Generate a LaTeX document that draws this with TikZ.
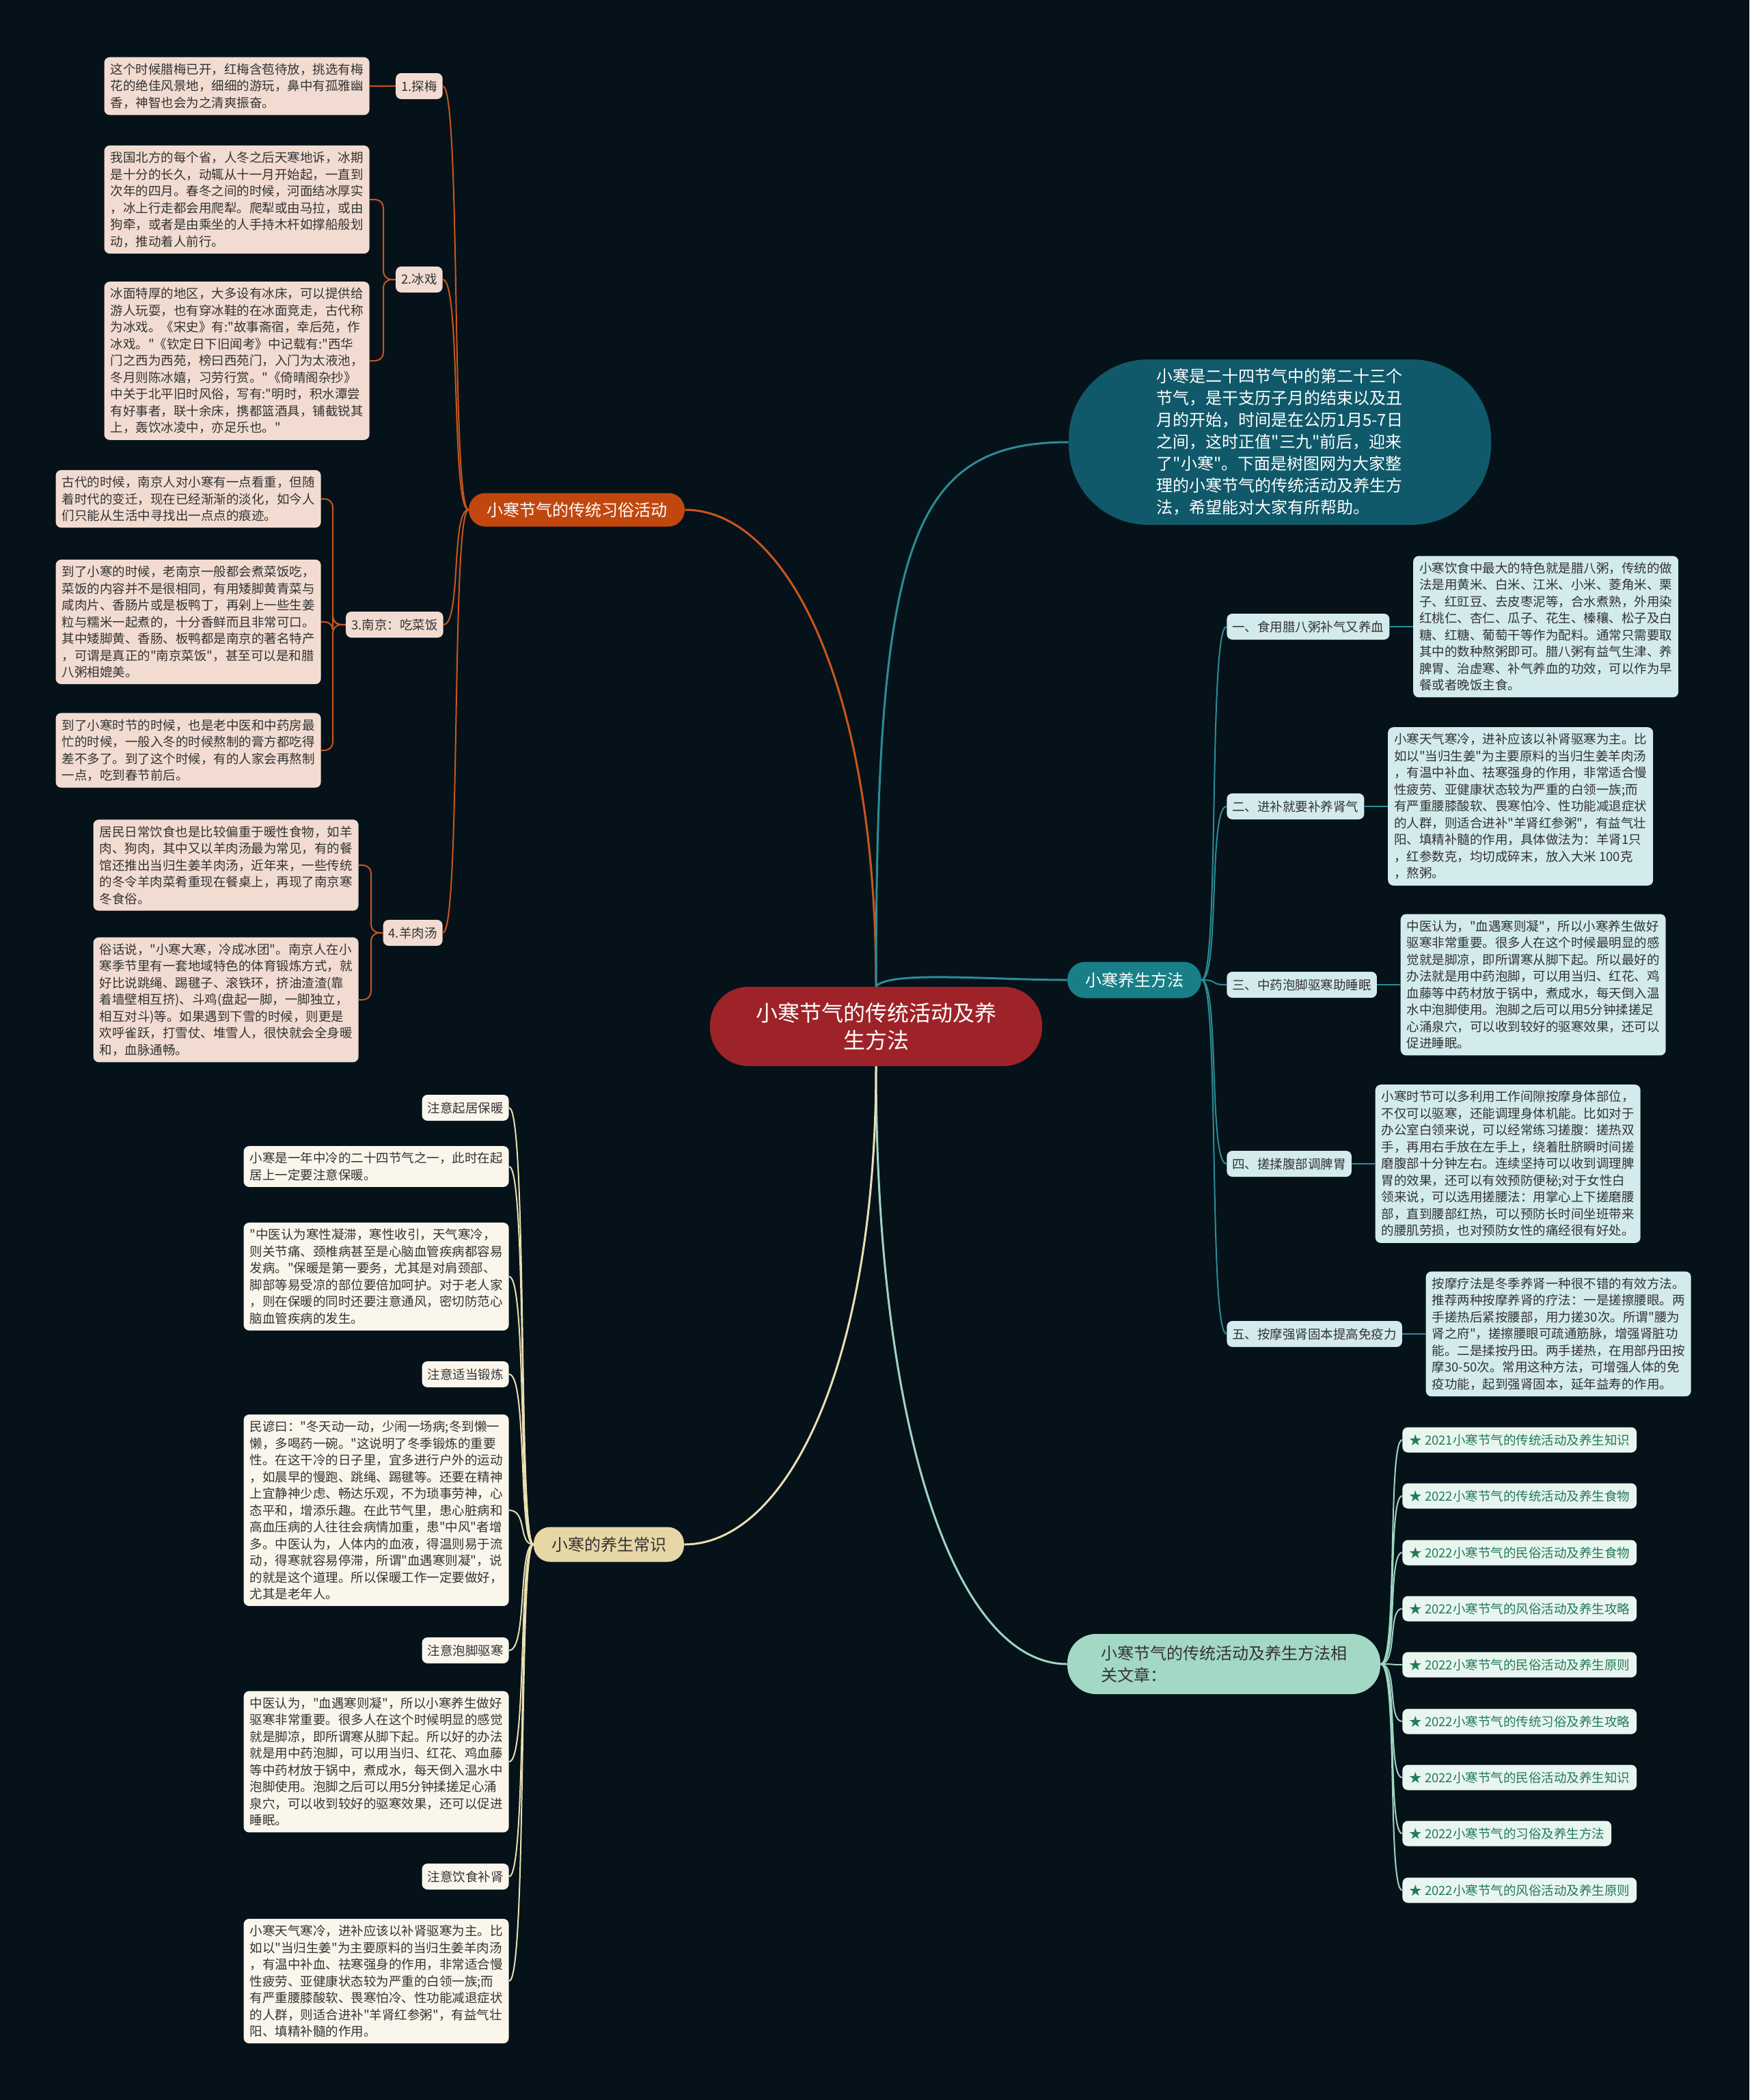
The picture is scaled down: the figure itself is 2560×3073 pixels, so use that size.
\documentclass[tikz,border=0pt]{standalone}
\usepackage{fontspec}
\setmainfont{Noto Sans CJK SC}
\newfontfamily\zhf{Noto Sans CJK SC}
\usetikzlibrary{positioning}
\definecolor{bg}{HTML}{06121A}
\definecolor{rootc}{HTML}{9E2328}
\definecolor{orgc}{HTML}{C2470F}
\definecolor{orgline}{HTML}{C9561C}
\definecolor{pinkc}{HTML}{F2DCD1}
\definecolor{introc}{HTML}{10596A}
\definecolor{tealc}{HTML}{187F88}
\definecolor{tealline}{HTML}{2A8D96}
\definecolor{cyanc}{HTML}{D3EBEC}
\definecolor{mintc}{HTML}{A3D7C6}
\definecolor{mintline}{HTML}{9FD5C2}
\definecolor{linkc}{HTML}{E9F5EF}
\definecolor{linktext}{HTML}{217A5B}
\definecolor{tanc}{HTML}{E8D7A6}
\definecolor{creamline}{HTML}{E9DFB0}
\definecolor{creamc}{HTML}{FAF6EC}
\definecolor{txt}{HTML}{333333}
\newcommand\myleaf{\zhf\fontsize{9.25pt}{12.25pt}\selectfont}
\newcommand\mybranch{\zhf\fontsize{12pt}{16pt}\selectfont}
\newcommand\myroot{\zhf\fontsize{16pt}{20pt}\selectfont}
\tikzset{
  leafbase/.style={text=txt, rounded corners=4pt, align=left, font=\myleaf, inner xsep=4.5pt, inner ysep=4.5pt},
  pleaf/.style={leafbase, fill=pinkc},
  cleaf/.style={leafbase, fill=cyanc},
  yleaf/.style={leafbase, fill=creamc},
  subbase/.style={text=txt, rounded corners=4pt, font=\myleaf, inner xsep=4pt, inner ysep=2pt, minimum height=19pt},
  psub/.style={subbase, fill=pinkc},
  csub/.style={subbase, fill=cyanc},
  ysub/.style={subbase, fill=creamc},
  linkbox/.style={fill=linkc, text=linktext, rounded corners=4pt, font=\myleaf, inner xsep=5pt, inner ysep=2pt, minimum height=18.5pt, anchor=west},
  branchbox/.style={font=\mybranch, inner xsep=13pt, inner ysep=2pt},
  mainline/.style={line width=1.5pt},
  subline/.style={line width=1pt},
}
\begin{document}
\begin{tikzpicture}[x=0.5pt,y=-0.5pt]
\useasboundingbox (0,0) rectangle (2560,3073);
\fill[bg] (0,0) rectangle (2560,3073);

% ---------- nodes ----------
\node[fill=rootc, text=white, rounded corners=28pt, minimum width=243pt, minimum height=58pt, align=center, font=\myroot, inner xsep=10pt] (root) at (1282,1502) {小寒节气的传统活动及养\\生方法};

\node[fill=introc, text=white, rounded corners=58pt, minimum width=309pt, minimum height=121pt, align=left, font=\zhf\fontsize{12pt}{16pt}\selectfont] (intro) at (1873,647) {小寒是二十四节气中的第二十三个\\节气，是干支历子月的结束以及丑\\月的开始，时间是在公历1月5-7日\\之间，这时正值"三九"前后，迎来\\了"小寒"。下面是树图网为大家整\\理的小寒节气的传统活动及养生方\\法，希望能对大家有所帮助。};

% branch 1
\node[branchbox, fill=orgc, text=white, rounded corners=12pt, minimum height=24.5pt] (b1) at (844,746) {小寒节气的传统习俗活动};
\node[psub, anchor=east] (s1) at (648,126) {1.探梅};
\node[psub, anchor=east] (s2) at (648,409) {2.冰戏};
\node[psub, anchor=east] (s3) at (649,914) {3.南京：吃菜饭};
\node[psub, anchor=east] (s4) at (648,1365) {4.羊肉汤};

\node[pleaf, anchor=east] (tm1) at (541,126) {这个时候腊梅已开，红梅含苞待放，挑选有梅\\花的绝佳风景地，细细的游玩，鼻中有孤雅幽\\香，神智也会为之清爽振奋。};
\node[pleaf, anchor=east] (bx1) at (541,292) {我国北方的每个省，人冬之后天寒地诉，冰期\\是十分的长久，动辄从十一月开始起，一直到\\次年的四月。春冬之间的时候，河面结冰厚实\\，冰上行走都会用爬犁。爬犁或由马拉，或由\\狗牵，或者是由乘坐的人手持木杆如撑船般划\\动，推动着人前行。};
\node[pleaf, anchor=east] (bx2) at (541,528) {冰面特厚的地区，大多设有冰床，可以提供给\\游人玩耍，也有穿冰鞋的在冰面竞走，古代称\\为冰戏。《宋史》有:"故事斋宿，幸后苑，作\\冰戏。"《钦定日下旧闻考》中记载有:"西华\\门之西为西苑，榜曰西苑门，入门为太液池，\\冬月则陈冰嬉，习劳行赏。"《倚晴阁杂抄》\\中关于北平旧时风俗，写有:"明时，积水潭尝\\有好事者，联十余床，携都篮酒具，铺截锐其\\上，轰饮冰凌中，亦足乐也。"};
\node[pleaf, anchor=east] (nj1) at (470,730) {古代的时候，南京人对小寒有一点看重，但随\\着时代的变迁，现在已经渐渐的淡化，如今人\\们只能从生活中寻找出一点点的痕迹。};
\node[pleaf, anchor=east] (nj2) at (470,910) {到了小寒的时候，老南京一般都会煮菜饭吃，\\菜饭的内容并不是很相同，有用矮脚黄青菜与\\咸肉片、香肠片或是板鸭丁，再剁上一些生姜\\粒与糯米一起煮的，十分香鲜而且非常可口。\\其中矮脚黄、香肠、板鸭都是南京的著名特产\\，可谓是真正的"南京菜饭"，甚至可以是和腊\\八粥相媲美。};
\node[pleaf, anchor=east] (nj3) at (470,1098) {到了小寒时节的时候，也是老中医和中药房最\\忙的时候，一般入冬的时候熬制的膏方都吃得\\差不多了。到了这个时候，有的人家会再熬制\\一点，吃到春节前后。};
\node[pleaf, anchor=east] (ym1) at (525,1266) {居民日常饮食也是比较偏重于暖性食物，如羊\\肉、狗肉，其中又以羊肉汤最为常见，有的餐\\馆还推出当归生姜羊肉汤，近年来，一些传统\\的冬令羊肉菜肴重现在餐桌上，再现了南京寒\\冬食俗。};
\node[pleaf, anchor=east] (ym2) at (525,1463) {俗话说，"小寒大寒，冷成冰团"。南京人在小\\寒季节里有一套地域特色的体育锻炼方式，就\\好比说跳绳、踢毽子、滚铁环，挤油渣渣(靠\\着墙壁相互挤)、斗鸡(盘起一脚，一脚独立，\\相互对斗)等。如果遇到下雪的时候，则更是\\欢呼雀跃，打雪仗、堆雪人，很快就会全身暖\\和，血脉通畅。};

% branch 2
\node[branchbox, fill=tealc, text=white, rounded corners=13pt, minimum height=26.5pt] (b2) at (1660,1434) {小寒养生方法};
\node[csub, anchor=west] (r1) at (1795,917) {一、食用腊八粥补气又养血};
\node[csub, anchor=west] (r2) at (1795,1180) {二、进补就要补养肾气};
\node[csub, anchor=west] (r3) at (1795,1441) {三、中药泡脚驱寒助睡眠};
\node[csub, anchor=west] (r4) at (1795,1703) {四、搓揉腹部调脾胃};
\node[csub, anchor=west] (r5) at (1795,1952) {五、按摩强肾固本提高免疫力};

\node[cleaf, right=17pt of r1] (rl1) {小寒饮食中最大的特色就是腊八粥，传统的做\\法是用黄米、白米、江米、小米、菱角米、栗\\子、红豇豆、去皮枣泥等，合水煮熟，外用染\\红桃仁、杏仁、瓜子、花生、榛穰、松子及白\\糖、红糖、葡萄干等作为配料。通常只需要取\\其中的数种熬粥即可。腊八粥有益气生津、养\\脾胃、治虚寒、补气养血的功效，可以作为早\\餐或者晚饭主食。};
\node[cleaf, right=17pt of r2] (rl2) {小寒天气寒冷，进补应该以补肾驱寒为主。比\\如以"当归生姜"为主要原料的当归生姜羊肉汤\\，有温中补血、祛寒强身的作用，非常适合慢\\性疲劳、亚健康状态较为严重的白领一族;而\\有严重腰膝酸软、畏寒怕冷、性功能减退症状\\的人群，则适合进补"羊肾红参粥"，有益气壮\\阳、填精补髓的作用，具体做法为：羊肾1只\\，红参数克，均切成碎末，放入大米 100克\\，熬粥。};
\node[cleaf, right=17pt of r3] (rl3) {中医认为，"血遇寒则凝"，所以小寒养生做好\\驱寒非常重要。很多人在这个时候最明显的感\\觉就是脚凉，即所谓寒从脚下起。所以最好的\\办法就是用中药泡脚，可以用当归、红花、鸡\\血藤等中药材放于锅中，煮成水，每天倒入温\\水中泡脚使用。泡脚之后可以用5分钟揉搓足\\心涌泉穴，可以收到较好的驱寒效果，还可以\\促进睡眠。};
\node[cleaf, right=17pt of r4] (rl4) {小寒时节可以多利用工作间隙按摩身体部位，\\不仅可以驱寒，还能调理身体机能。比如对于\\办公室白领来说，可以经常练习搓腹：搓热双\\手，再用右手放在左手上，绕着肚脐瞬时间搓\\磨腹部十分钟左右。连续坚持可以收到调理脾\\胃的效果，还可以有效预防便秘;对于女性白\\领来说，可以选用搓腰法：用掌心上下搓磨腰\\部，直到腰部红热，可以预防长时间坐班带来\\的腰肌劳损，也对预防女性的痛经很有好处。};
\node[cleaf, right=17pt of r5] (rl5) {按摩疗法是冬季养肾一种很不错的有效方法。\\推荐两种按摩养肾的疗法：一是搓擦腰眼。两\\手搓热后紧按腰部，用力搓30次。所谓"腰为\\肾之府"，搓擦腰眼可疏通筋脉，增强肾脏功\\能。二是揉按丹田。两手搓热，在用部丹田按\\摩30-50次。常用这种方法，可增强人体的免\\疫功能，起到强肾固本，延年益寿的作用。};

% branch 3
\node[branchbox, fill=mintc, text=txt, rounded corners=21pt, minimum height=44pt, minimum width=229pt, align=left] (b3) at (1791,2435) {小寒节气的传统活动及养生方法相\\关文章：};
\node[linkbox] (k1) at (2052,2107) {★ 2021小寒节气的传统活动及养生知识};
\node[linkbox] (k2) at (2052,2189) {★ 2022小寒节气的传统活动及养生食物};
\node[linkbox] (k3) at (2052,2272) {★ 2022小寒节气的民俗活动及养生食物};
\node[linkbox] (k4) at (2052,2354) {★ 2022小寒节气的风俗活动及养生攻略};
\node[linkbox] (k5) at (2052,2436) {★ 2022小寒节气的民俗活动及养生原则};
\node[linkbox] (k6) at (2052,2519) {★ 2022小寒节气的传统习俗及养生攻略};
\node[linkbox] (k7) at (2052,2601) {★ 2022小寒节气的民俗活动及养生知识};
\node[linkbox] (k8) at (2052,2683) {★ 2022小寒节气的习俗及养生方法};
\node[linkbox] (k9) at (2052,2766) {★ 2022小寒节气的风俗活动及养生原则};

% branch 4
\node[branchbox, fill=tanc, text=txt, rounded corners=12pt, minimum height=25.5pt] (b4) at (891,2260) {小寒的养生常识};
\node[ysub, anchor=east] (c1) at (745,1621) {注意起居保暖};
\node[yleaf, anchor=east] (c2) at (745,1707) {小寒是一年中冷的二十四节气之一，此时在起\\居上一定要注意保暖。};
\node[yleaf, anchor=east] (c3) at (745,1868) {"中医认为寒性凝滞，寒性收引，天气寒冷，\\则关节痛、颈椎病甚至是心脑血管疾病都容易\\发病。"保暖是第一要务，尤其是对肩颈部、\\脚部等易受凉的部位要倍加呵护。对于老人家\\，则在保暖的同时还要注意通风，密切防范心\\脑血管疾病的发生。};
\node[ysub, anchor=east] (c4) at (745,2011) {注意适当锻炼};
\node[yleaf, anchor=east] (c5) at (745,2210) {民谚曰："冬天动一动，少闹一场病;冬到懒一\\懒，多喝药一碗。"这说明了冬季锻炼的重要\\性。在这干冷的日子里，宜多进行户外的运动\\，如晨早的慢跑、跳绳、踢毽等。还要在精神\\上宜静神少虑、畅达乐观，不为琐事劳神，心\\态平和，增添乐趣。在此节气里，患心脏病和\\高血压病的人往往会病情加重，患"中风"者增\\多。中医认为，人体内的血液，得温则易于流\\动，得寒就容易停滞，所谓"血遇寒则凝"，说\\的就是这个道理。所以保暖工作一定要做好，\\尤其是老年人。};
\node[ysub, anchor=east] (c6) at (745,2415) {注意泡脚驱寒};
\node[yleaf, anchor=east] (c7) at (745,2578) {中医认为，"血遇寒则凝"，所以小寒养生做好\\驱寒非常重要。很多人在这个时候明显的感觉\\就是脚凉，即所谓寒从脚下起。所以好的办法\\就是用中药泡脚，可以用当归、红花、鸡血藤\\等中药材放于锅中，煮成水，每天倒入温水中\\泡脚使用。泡脚之后可以用5分钟揉搓足心涌\\泉穴，可以收到较好的驱寒效果，还可以促进\\睡眠。};
\node[ysub, anchor=east] (c8) at (745,2746) {注意饮食补肾};
\node[yleaf, anchor=east] (c9) at (745,2899) {小寒天气寒冷，进补应该以补肾驱寒为主。比\\如以"当归生姜"为主要原料的当归生姜羊肉汤\\，有温中补血、祛寒强身的作用，非常适合慢\\性疲劳、亚健康状态较为严重的白领一族;而\\有严重腰膝酸软、畏寒怕冷、性功能减退症状\\的人群，则适合进补"羊肾红参粥"，有益气壮\\阳、填精补髓的作用。};

% ---------- connectors ----------
\draw[orgline, mainline] (root.north) .. controls (1282,1000) and (1150,746) .. (b1.east);
\draw[tealline, mainline] (root.north) .. controls (1282,800) and (1330,647) .. (intro.west);
\draw[tealline, mainline] (root.north) .. controls (1300,1420) and (1450,1434) .. (b2.west);
\draw[mintline, mainline] (root.south) .. controls (1282,2100) and (1400,2435) .. (b3.west);
\draw[creamline, mainline] (root.south) .. controls (1282,2000) and (1150,2260) .. (b4.east);

% branch 1 spine
\draw[orgline, subline] (b1.west) .. controls (660,746) and (675,126) .. (s1.east);
\draw[orgline, subline] (b1.west) .. controls (660,746) and (675,409) .. (s2.east);
\draw[orgline, subline] (b1.west) .. controls (660,746) and (675,914) .. (s3.east);
\draw[orgline, subline] (b1.west) .. controls (660,746) and (675,1365) .. (s4.east);
% branch 1 leaves
\draw[orgline, subline] (s1.west) -- (tm1.east);
\draw[orgline, subline, rounded corners=6pt] (s2.west) -- (561,409) -- (561,292) -- (bx1.east);
\draw[orgline, subline, rounded corners=6pt] (s2.west) -- (561,409) -- (561,528) -- (bx2.east);
\draw[orgline, subline, rounded corners=6pt] (s3.west) -- (487,914) -- (487,730) -- (nj1.east);
\draw[orgline, subline, rounded corners=6pt] (s3.west) -- (487,914) -- (487,910) -- (nj2.east);
\draw[orgline, subline, rounded corners=6pt] (s3.west) -- (487,914) -- (487,1098) -- (nj3.east);
\draw[orgline, subline, rounded corners=6pt] (s4.west) -- (543,1365) -- (543,1266) -- (ym1.east);
\draw[orgline, subline, rounded corners=6pt] (s4.west) -- (543,1365) -- (543,1463) -- (ym2.east);

% branch 2
\draw[tealline, subline] (b2.east) .. controls (1785,1434) and (1768,917) .. (r1.west);
\draw[tealline, subline] (b2.east) .. controls (1785,1434) and (1768,1180) .. (r2.west);
\draw[tealline, subline] (b2.east) .. controls (1785,1434) and (1768,1441) .. (r3.west);
\draw[tealline, subline] (b2.east) .. controls (1785,1434) and (1768,1703) .. (r4.west);
\draw[tealline, subline] (b2.east) .. controls (1785,1434) and (1768,1952) .. (r5.west);
\draw[tealline, subline] (r1.east) -- (rl1.west);
\draw[tealline, subline] (r2.east) -- (rl2.west);
\draw[tealline, subline] (r3.east) -- (rl3.west);
\draw[tealline, subline] (r4.east) -- (rl4.west);
\draw[tealline, subline] (r5.east) -- (rl5.west);

% branch 3
\foreach \k/\y in {k1/2107,k2/2189,k3/2272,k4/2354,k5/2436,k6/2519,k7/2601,k8/2683,k9/2766}
  \draw[mintline, subline] (b3.east) .. controls (2046,2435) and (2030,\y) .. (\k.west);

% branch 4
\foreach \c/\y in {c1/1621,c2/1707,c3/1868,c4/2011,c5/2210,c6/2415,c7/2578,c8/2746,c9/2899}
  \draw[creamline, subline] (b4.west) .. controls (758,2260) and (772,\y) .. (\c.east);
\end{tikzpicture}
\end{document}
